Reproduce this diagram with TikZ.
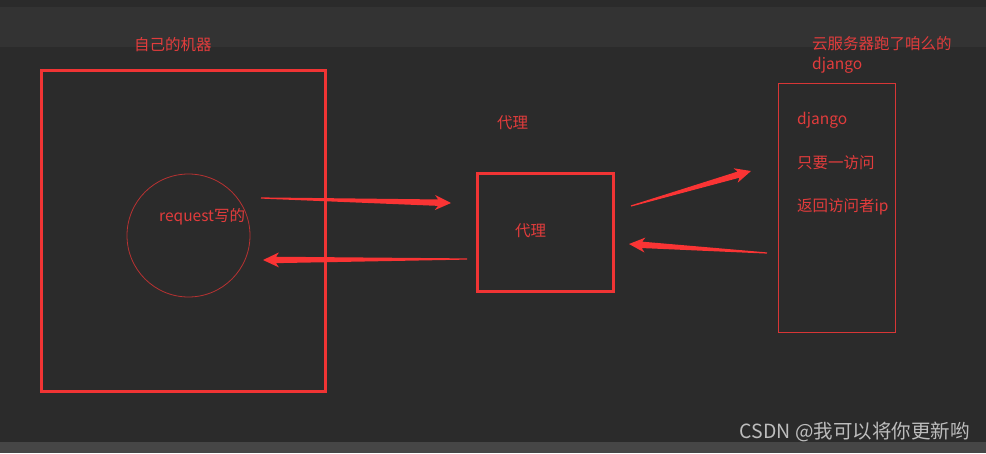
\documentclass[tikz,border=0pt]{standalone}
\usepackage{fontspec}
\setmainfont{Noto Sans CJK SC}
\usetikzlibrary{calc}
\definecolor{bgmain}{HTML}{2B2B2B}
\definecolor{bgband}{HTML}{333333}
\definecolor{bgbottom}{HTML}{464646}
\definecolor{boxred}{HTML}{F03434}
\definecolor{thinred}{HTML}{D83636}
\definecolor{circred}{HTML}{B83232}
\definecolor{txtred}{HTML}{E23C3C}
\definecolor{arrred}{HTML}{FA3434}
\definecolor{wmgrey}{HTML}{BDBDBD}
\tikzset{
  lbl/.style={anchor=west, inner sep=0pt, text=txtred, font=\fontsize{15.5}{18}\selectfont},
  thickbox/.style={draw=boxred, line width=3pt},
  thinbox/.style={draw=thinred, line width=1pt},
}
\newcommand\taperarrow[2]{%
  \path ($(#2)!13pt!(#1)$) coordinate (tj) ($(#2)!16pt!(#1)$) coordinate (tk);
  \fill[arrred] ($(#1)!0.6pt!90:(#2)$) -- ($(tj)!3.2pt!90:(#2)$) -- ($(tk)!7.5pt!90:(#2)$) -- (#2)
    -- ($(tk)!7.5pt!-90:(#2)$) -- ($(tj)!3.2pt!-90:(#2)$) -- ($(#1)!0.6pt!-90:(#2)$) -- cycle;
}
\begin{document}
\begin{tikzpicture}[x=1pt,y=-1pt]
\useasboundingbox (0,0) rectangle (986,453);
\fill[bgmain] (0,0) rectangle (986,453);
\fill[bgband] (0,7) rectangle (986,47);
\fill[bgbottom] (0,442) rectangle (986,453);

% own machine
\node[lbl] (ownlbl) at (134,45) {自己的机器};
\draw[thickbox] (41,70) rectangle (325,391);
\node[draw=circred, line width=0.8pt, circle, minimum size=123pt, inner sep=0pt] (circ) at (188.5,235.5) {};
\node[lbl] (req) at (159,217) {request写的};

% proxy
\node[lbl] (proxylbl) at (497,123) {代理};
\draw[thickbox] (477,173) rectangle (613,291);
\node[lbl] (proxyin) at (515,231) {代理};

% server
\node[lbl] (srvlbl1) at (812,44) {云服务器跑了咱么的};
\node[lbl] (srvlbl2) at (812,65) {django};
\draw[thinbox] (778,83) rectangle (895,332);
\node[lbl] (dj) at (797,120) {django};
\node[lbl] (visit) at (797,163) {只要一访问};
\node[lbl] (ret) at (797,207) {返回访问者ip};

% arrows
\coordinate (a1s) at (261,198);
\coordinate (a1e) at (451,203);
\coordinate (a2s) at (467,259);
\coordinate (a2e) at (263,260);
\coordinate (a3s) at (631,206);
\coordinate (a3e) at (751,171);
\coordinate (a4s) at (767,253);
\coordinate (a4e) at (629,244);
\taperarrow{a1s}{a1e}
\taperarrow{a2s}{a2e}
\taperarrow{a3s}{a3e}
\taperarrow{a4s}{a4e}

% watermark
\node[anchor=east, inner sep=0pt, text=wmgrey, font=\fontsize{19.5}{22}\selectfont] (wm) at (970,432) {CSDN @我可以将你更新哟};
\end{tikzpicture}
\end{document}
